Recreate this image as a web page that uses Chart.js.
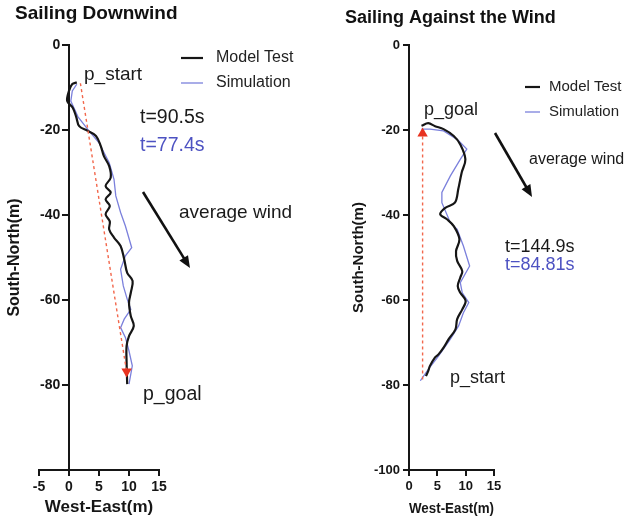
<!DOCTYPE html>
<html>
<head>
<meta charset="utf-8">
<script src="https://cdn.jsdelivr.net/npm/chart.js@4.4.1/dist/chart.umd.min.js"></script>
<style>
  html, body { margin: 0; padding: 0; background: #fff; }
  #wrap { position: relative; width: 634px; height: 525px; }
  #downChart { position: absolute; left: 0; top: 0; }
  #upChart { position: absolute; left: 330px; top: 0; }
</style>
</head>
<body>
<div id="wrap">
  <canvas id="downChart" width="330" height="525"></canvas>
  <canvas id="upChart" width="304" height="525"></canvas>
</div>
<script>
// ===============================
// Data
// ===============================
// Sailing Downwind
const downModelX = [1.3, 0.55, 0, -0.3, 0.6, 1.2, 1.7, 3.1, 4.5, 5.3, 5.8, 6.7, 6.95, 6.1, 6.95, 6.1, 6.8, 6.1, 6.8, 6.7, 7.5, 8.6, 9.2, 9.7, 10.6, 10.3, 10.0, 10.3, 10.8, 10.0, 9.6, 9.6, 9.7];
const downModelY = [-8.8, -9.2, -10.8, -13.2, -14.7, -16.9, -19.1, -20.2, -21.4, -23.8, -26.1, -28.5, -31.2, -33.2, -34.7, -36.3, -37.9, -39.8, -41.5, -43.4, -45.3, -47.3, -50.4, -53.6, -55.5, -58.3, -60.6, -63.8, -66.1, -68.5, -70.8, -74.7, -79.8];
const downSimX = [1.3, 0.55, 0.3, 1.5, 3.1, 5.0, 6.7, 7.5, 7.8, 8.6, 9.4, 10.45, 9.4, 8.6, 9.05, 9.7, 10.3, 9.2, 8.6, 9.4, 10.0, 10.55, 10.0];
const downSimY = [-9.2, -10.8, -13.2, -16.9, -19.8, -23.0, -27.7, -31.6, -35.5, -39.4, -42.6, -47.7, -49.6, -52.8, -56.7, -59.8, -62.2, -64.5, -66.5, -68.8, -72.0, -75.5, -79.8];
const downPathX = [1.9, 9.6];
const downPathY = [-9.0, -76.8];

// Sailing Against the Wind
const upModelX = [3.0, 3.4, 3.7, 4.6, 5.2, 6.1, 7.0, 8.2, 8.5, 9.4, 10.0, 9.05, 8.6, 9.05, 9.4, 8.5, 8.3, 8.9, 7.9, 6.7, 5.5, 6.4, 8.1, 8.7, 9.3, 9.95, 9.05, 7.9, 6.1, 4.6, 3.4, 2.2];
const upModelY = [-77.9, -76.7, -75.5, -73.5, -72.8, -71.2, -69.2, -66.9, -64.5, -62.2, -60.2, -58.3, -56.7, -54.7, -53.2, -50.8, -48.5, -45.7, -42.6, -41.0, -39.8, -38.3, -37.1, -33.9, -30.0, -26.9, -23.4, -21.4, -19.8, -19.1, -18.4, -19.0];
const upSimX = [2.0, 3.4, 5.2, 7.3, 8.75, 9.6, 10.55, 9.4, 9.05, 10.7, 9.6, 8.5, 7.3, 5.8, 5.8, 7.3, 9.05, 10.2, 8.5, 6.1, 3.7, 2.2];
const upSimY = [-79.0, -76.3, -73.2, -69.2, -66.1, -63.0, -60.6, -58.3, -55.9, -52.0, -47.3, -43.4, -41.8, -37.1, -34.7, -30.8, -26.9, -24.5, -22.2, -20.2, -19.8, -19.8];
const upPathX = [2.4, 2.4];
const upPathY = [-78.7, -20.8];

const seriesNames = ["Model Test", "Simulation"];
const downTimes = ["t=90.5s", "t=77.4s"];
const upTimes = ["t=144.9s", "t=84.81s"];

const FONT = "'Liberation Sans', Arial, sans-serif";
const INK = "#161616";
const BLUE = "#7b80dc";
const BLUE_TEXT = "#4d52c2";
const RED = "#f2674c";

const pts = (xs, ys) => xs.map((x, i) => ({ x: x, y: ys[i] }));

// ===============================
// Legend / notes plugin
// ===============================
const notesPlugin = {
  id: "notes",
  afterDraw(chart, args, opts) {
    const ctx = chart.ctx;
    ctx.save();

    // legend built from the datasets
    const lg = opts.legend;
    let row = 0;
    chart.data.datasets.forEach((ds) => {
      if (!ds.label) return;
      const y = lg.y + row * lg.gap;
      ctx.strokeStyle = ds.borderColor;
      ctx.lineWidth = ds.borderWidth;
      ctx.beginPath();
      ctx.moveTo(lg.x, y);
      ctx.lineTo(lg.x + lg.len, y);
      ctx.stroke();
      ctx.fillStyle = "#222";
      ctx.font = lg.size + "px " + FONT;
      ctx.textBaseline = "middle";
      ctx.textAlign = "left";
      ctx.fillText(ds.label, lg.x + lg.len + lg.pad, y);
      row++;
    });

    // free texts
    (opts.texts || []).forEach((t) => {
      ctx.fillStyle = t.color || "#1a1a1a";
      ctx.font = (t.bold ? "bold " : "") + t.size + "px " + FONT;
      ctx.textAlign = "left";
      ctx.textBaseline = "middle";
      ctx.fillText(t.text, t.x, t.y);
    });

    // wind arrow
    const a = opts.arrow;
    if (a) {
      const ang = Math.atan2(a.y2 - a.y1, a.x2 - a.x1);
      const head = 13;
      ctx.strokeStyle = "#111";
      ctx.fillStyle = "#111";
      ctx.lineWidth = 2.6;
      ctx.beginPath();
      ctx.moveTo(a.x1, a.y1);
      ctx.lineTo(a.x2 - Math.cos(ang) * head * 0.8, a.y2 - Math.sin(ang) * head * 0.8);
      ctx.stroke();
      ctx.beginPath();
      ctx.moveTo(a.x2, a.y2);
      ctx.lineTo(a.x2 - head * Math.cos(ang - 0.4), a.y2 - head * Math.sin(ang - 0.4));
      ctx.lineTo(a.x2 - head * Math.cos(ang + 0.4), a.y2 - head * Math.sin(ang + 0.4));
      ctx.closePath();
      ctx.fill();
    }
    ctx.restore();
  },
};

function makeDatasets(modelX, modelY, simX, simY, pathX, pathY, tipRotation) {
  return [
    {
      label: "",
      data: pts(pathX, pathY),
      showLine: true,
      borderColor: RED,
      borderWidth: 1.4,
      borderDash: [3, 3],
      pointRadius: [0, 6],
      pointStyle: "triangle",
      rotation: tipRotation,
      pointBackgroundColor: "#e8331f",
      pointBorderColor: "#e8331f",
      pointBorderWidth: 0,
    },
    {
      label: seriesNames[0],
      data: pts(modelX, modelY),
      showLine: true,
      borderColor: INK,
      borderWidth: 2.2,
      pointRadius: 0,
      tension: 0.35,
    },
    {
      label: seriesNames[1],
      data: pts(simX, simY),
      showLine: true,
      borderColor: BLUE,
      borderWidth: 1.3,
      pointRadius: 0,
    },
  ];
}

function axisStyle(size) {
  return {
    ticks: { color: INK, font: { family: FONT, size: size, weight: "bold" }, padding: 3 },
    grid: { display: true, drawOnChartArea: false, color: INK, lineWidth: 2, tickLength: 6 },
    border: { display: true, color: INK, width: 2 },
  };
}

// ===============================
// Sailing Downwind
// ===============================
const dx = axisStyle(14);

new Chart(document.getElementById("downChart"), {
  type: "scatter",
  data: { datasets: makeDatasets(downModelX, downModelY, downSimX, downSimY, downPathX, downPathY, 180) },
  options: {
    responsive: false,
    animation: false,
    layout: { padding: { left: 5, right: 171, top: 45, bottom: 7 } },
    scales: {
      x: {
        type: "linear",
        position: "bottom",
        min: -5,
        max: 15,
        ...dx,
        ticks: { ...dx.ticks, stepSize: 5 },
        title: { display: true, text: "West-East(m)", color: INK, font: { family: FONT, size: 17, weight: "bold" }, padding: 0 },
        afterFit: (s) => { s.height = 48; },
      },
      // axis line and tick marks, crossing at x = 0
      y: {
        type: "linear",
        position: { x: 0 },
        min: -100,
        max: 0,
        ticks: { display: false, stepSize: 20 },
        grid: { display: true, drawOnChartArea: false, color: INK, lineWidth: 2, tickLength: 6 },
        border: { display: true, color: INK, width: 2 },
      },
      // labels and title for the same axis (mirrored so they sit next to x = 0)
      yLabels: {
        type: "linear",
        position: "left",
        min: -100,
        max: 0,
        ticks: {
          color: INK,
          font: { family: FONT, size: 14, weight: "bold" },
          stepSize: 20,
          mirror: true,
          crossAlign: "far",
          padding: 1,
          callback: (v) => (v === -100 ? "" : v),
        },
        grid: { display: false },
        border: { display: false },
        title: { display: true, text: "South-North(m)", color: INK, font: { family: FONT, size: 16, weight: "bold" }, padding: 0 },
        afterFit: (s) => { s.width = 34; },
      },
    },
    plugins: {
      legend: { display: false },
      tooltip: { enabled: false },
      notes: {
        legend: { x: 181, y: 58, gap: 25, len: 22, pad: 13, size: 16 },
        texts: [
          { text: "Sailing Downwind", x: 15, y: 14, size: 19, bold: true, color: "#111" },
          { text: "p_start", x: 84, y: 75, size: 19 },
          { text: downTimes[0], x: 140, y: 118, size: 19.5 },
          { text: downTimes[1], x: 140, y: 146, size: 19.5, color: BLUE_TEXT },
          { text: "average wind", x: 179, y: 213, size: 19 },
          { text: "p_goal", x: 143, y: 395, size: 19.5 },
        ],
        arrow: { x1: 143, y1: 192, x2: 190, y2: 268 },
      },
    },
  },
  plugins: [notesPlugin],
});

// ===============================
// Sailing Against the Wind
// ===============================
const ux = axisStyle(13);
const uy = axisStyle(13);

new Chart(document.getElementById("upChart"), {
  type: "scatter",
  data: { datasets: makeDatasets(upModelX, upModelY, upSimX, upSimY, upPathX, upPathY, 0) },
  options: {
    responsive: false,
    animation: false,
    layout: { padding: { left: 20, right: 140, top: 45, bottom: 7 } },
    scales: {
      x: {
        type: "linear",
        position: "bottom",
        min: 0,
        max: 15,
        ...ux,
        ticks: { ...ux.ticks, stepSize: 5 },
        title: { display: true, text: "West-East(m)", color: INK, font: { family: FONT, size: 15, weight: "bold" }, padding: 0 },
        afterFit: (s) => { s.height = 48; },
      },
      y: {
        type: "linear",
        position: "left",
        min: -100,
        max: 0,
        ...uy,
        ticks: { ...uy.ticks, stepSize: 20 },
        title: { display: true, text: "South-North(m)", color: INK, font: { family: FONT, size: 15, weight: "bold" }, padding: 0 },
        afterFit: (s) => { s.width = 59; },
      },
    },
    plugins: {
      legend: { display: false },
      tooltip: { enabled: false },
      notes: {
        legend: { x: 195, y: 87, gap: 25, len: 15, pad: 9, size: 15 },
        texts: [
          { text: "Sailing Against the Wind", x: 15, y: 18, size: 18, bold: true, color: "#111" },
          { text: "p_goal", x: 94, y: 110, size: 18 },
          { text: "average wind", x: 199, y: 160, size: 16 },
          { text: upTimes[0], x: 175, y: 247, size: 18 },
          { text: upTimes[1], x: 175, y: 265, size: 18, color: BLUE_TEXT },
          { text: "p_start", x: 120, y: 378, size: 18 },
        ],
        arrow: { x1: 165, y1: 133, x2: 202, y2: 197 },
      },
    },
  },
  plugins: [notesPlugin],
});
</script>
</body>
</html>
